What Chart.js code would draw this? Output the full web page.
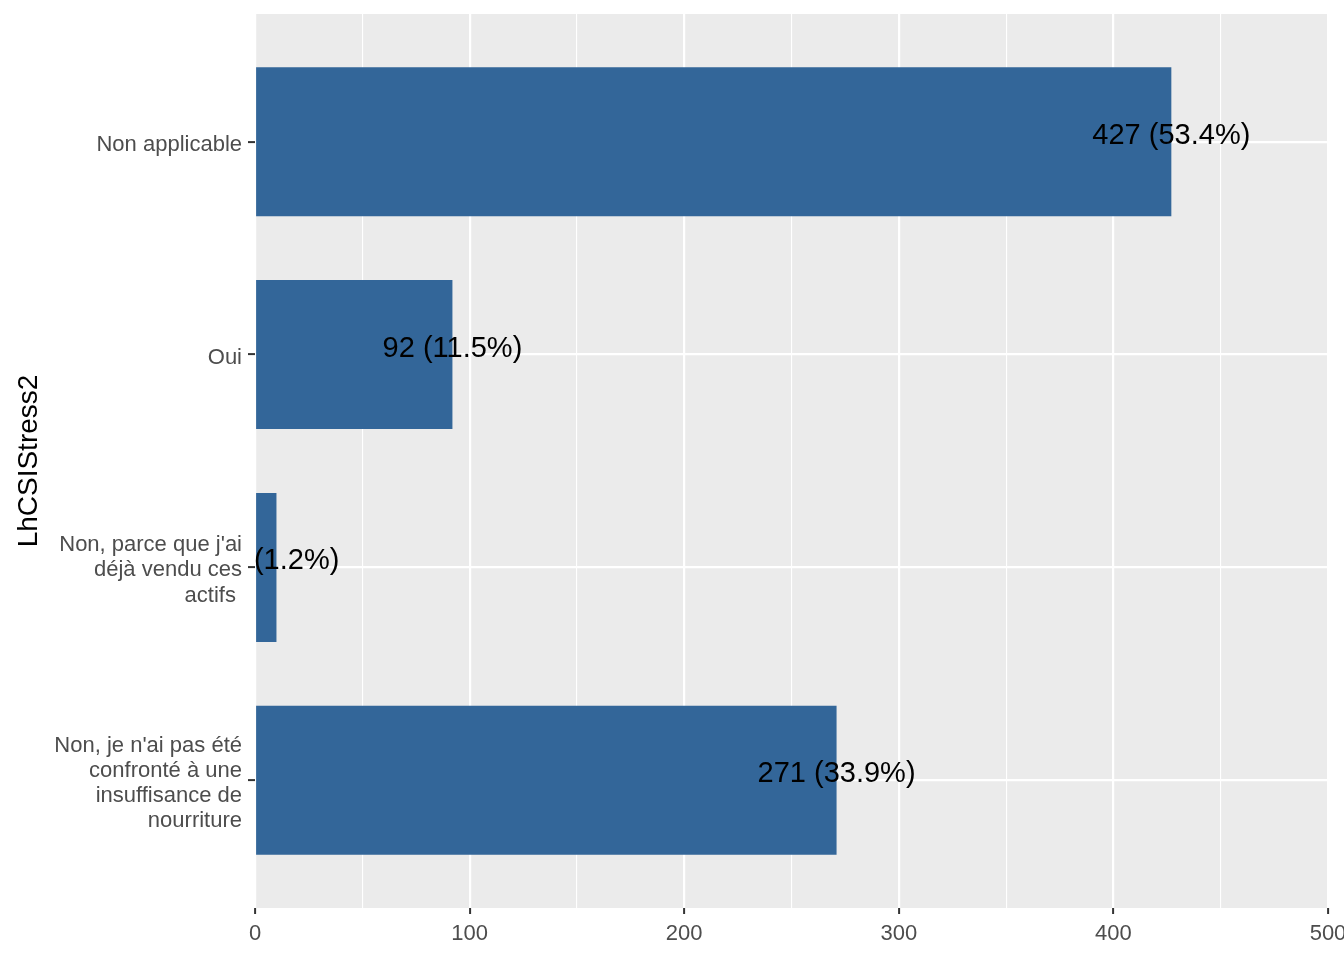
<!DOCTYPE html>
<html>
<head>
<meta charset="utf-8">
<script src="https://cdn.jsdelivr.net/npm/chart.js@4.4.0/dist/chart.umd.min.js"></script>
<style>
  body { margin: 0; background: #fff; }
</style>
</head>
<body>
<canvas id="myChart" width="1344" height="960"></canvas>
<script>
// categories, top to bottom
const categories = [
  'Non applicable',
  'Oui',
  ["Non, parce que j'ai", 'déjà vendu ces', 'actifs '],
  ["Non, je n'ai pas été", 'confronté à une', 'insuffisance de', 'nourriture']
];
const counts = [427, 92, 10, 271];
const percents = [53.4, 11.5, 1.2, 33.9];
const xTicks = [0, 100, 200, 300, 400, 500];

const panelBg = {
  id: 'panelBg',
  beforeDraw(chart) {
    const { ctx, chartArea: a } = chart;
    ctx.save();
    ctx.fillStyle = '#EBEBEB';
    ctx.fillRect(a.left, a.top, a.right - a.left, a.bottom - a.top);
    ctx.restore();
    // nudge y tick labels down a bit, like ggplot's text placement
    const items = chart.scales.y.getLabelItems(chart.chartArea);
    if (!items._shifted) {
      items.forEach(it => { it.options.translation[1] += 3; });
      items._shifted = true;
    }
  }
};

const barLabels = {
  id: 'barLabels',
  afterDatasetsDraw(chart) {
    const { ctx, chartArea: a } = chart;
    const meta = chart.getDatasetMeta(0);
    const xScale = chart.scales.x;
    ctx.save();
    ctx.beginPath();
    ctx.rect(a.left, a.top, a.right - a.left, a.bottom - a.top);
    ctx.clip();
    ctx.fillStyle = '#000';
    ctx.font = '29px "Liberation Sans", Arial, sans-serif';
    ctx.textAlign = 'center';
    ctx.textBaseline = 'alphabetic';
    meta.data.forEach((bar, i) => {
      const x = xScale.getPixelForValue(counts[i]);
      ctx.fillText(counts[i] + ' (' + percents[i].toFixed(1) + '%)', x, bar.y + 2);
    });
    ctx.restore();
  }
};

const ctx = document.getElementById('myChart').getContext('2d');
const myChart = new Chart(ctx, {
  type: 'bar',
  data: {
    datasets: [{
      data: counts.map((c, i) => ({ x: c, y: i })),
      backgroundColor: '#336699',
      borderWidth: 0,
      barPercentage: 0.7,
      categoryPercentage: 1
    }]
  },
  options: {
    indexAxis: 'y',
    responsive: false,
    devicePixelRatio: 1,
    animation: false,
    layout: { padding: { top: 14, right: 16, bottom: 0, left: 0 } },
    plugins: {
      legend: { display: false },
      tooltip: { enabled: false }
    },
    scales: {
      x: {
        type: 'linear',
        min: 0,
        max: 500,
        border: { display: false },
        afterBuildTicks(scale) {
          const t = [];
          for (let v = 0; v <= 500; v += 50) t.push({ value: v });
          scale.ticks = t;
        },
        afterFit(scale) {
          scale.height = 52;
          scale.paddingLeft = 0;
          scale.paddingRight = 0;
        },
        grid: {
          color: '#FFFFFF',
          lineWidth: c => (c.tick && c.tick.value % 100 === 0) ? 2.2 : 1.1,
          tickColor: c => (c.tick && c.tick.value % 100 === 0) ? '#333333' : 'rgba(0,0,0,0)',
          tickWidth: 2,
          tickLength: 6
        },
        ticks: {
          autoSkip: false,
          maxRotation: 0,
          padding: 7,
          color: '#4D4D4D',
          font: { family: '"Liberation Sans", Arial, sans-serif', size: 22 },
          callback: v => xTicks.includes(v) ? String(v) : ''
        }
      },
      y: {
        type: 'linear',
        reverse: true,
        min: -0.6,
        max: categories.length - 1 + 0.6,
        offset: false,
        border: { display: false },
        afterBuildTicks(scale) {
          scale.ticks = categories.map((c, i) => ({ value: i }));
        },
        afterFit(scale) {
          scale.width = 255;
          scale.paddingTop = 0;
          scale.paddingBottom = 0;
        },
        grid: {
          offset: false,
          color: '#FFFFFF',
          lineWidth: 2.2,
          tickColor: '#333333',
          tickWidth: 2,
          tickLength: 7
        },
        ticks: {
          autoSkip: false,
          padding: 6,
          color: '#4D4D4D',
          font: { family: '"Liberation Sans", Arial, sans-serif', size: 22, lineHeight: 1.14 },
          callback: v => categories[v]
        },
        title: {
          display: true,
          text: 'LhCSIStress2',
          color: '#000000',
          padding: { top: 12, bottom: 0 },
          font: { family: '"Liberation Sans", Arial, sans-serif', size: 28 }
        }
      }
    }
  },
  plugins: [panelBg, barLabels]
});
</script>
</body>
</html>
